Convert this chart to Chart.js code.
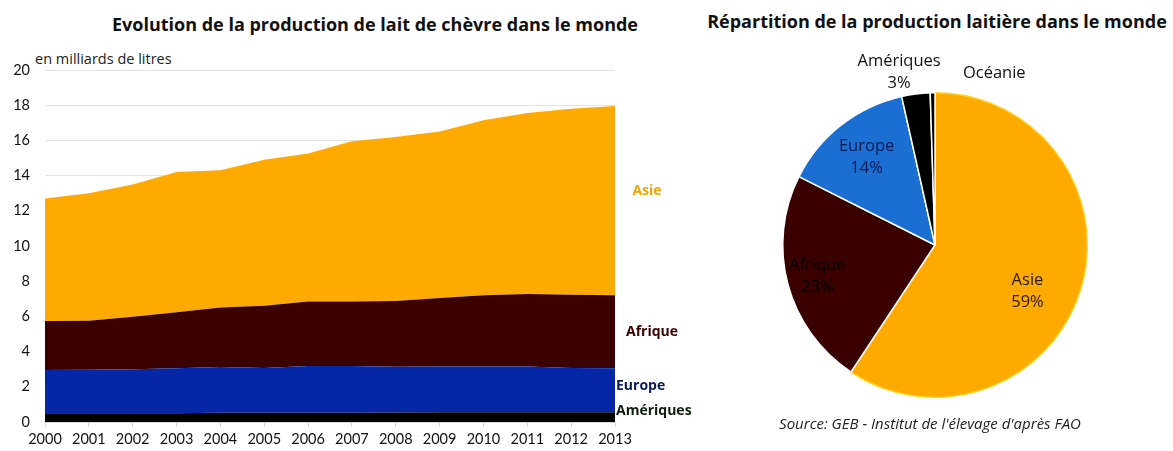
<!DOCTYPE html>
<html lang="fr">
<head>
<meta charset="utf-8">
<title>Lait de chèvre dans le monde</title>
<script src="https://cdn.jsdelivr.net/npm/chart.js@4.4.0/dist/chart.umd.min.js"></script>
<style>
  body { margin: 0; background: #fff; font-family: "Open Sans", Lato, sans-serif; }
  #wrap { position: relative; width: 1173px; height: 451px; overflow: hidden; }
  .box { position: absolute; }
  .title { position: absolute; font-weight: bold; font-size: 18px; color: #111; white-space: nowrap; }
  #unit { position: absolute; left: 35px; top: 49px; font-size: 14.5px; color: #222; }
  #source { position: absolute; left: 700px; width: 460px; top: 413px; text-align: center;
            font-style: italic; font-size: 15px; color: #222; }
</style>
</head>
<body>
<div id="wrap">
  <div class="title" style="left:0; width:750px; text-align:center; top:12px;">Evolution de la production de lait de chèvre dans le monde</div>
  <div class="title" style="left:700px; width:474px; text-align:center; top:9px;">Répartition de la production laitière dans le monde</div>
  <div id="unit">en milliards de litres</div>
  <div class="box" style="left:0; top:0;"><canvas id="areaChart" width="700" height="451"></canvas></div>
  <div class="box" style="left:700px; top:0;"><canvas id="pieChart" width="473" height="451"></canvas></div>
  <div id="source">Source: GEB - Institut de l'élevage d'après FAO</div>
</div>
<script>
  // years on the x axis
  var years = ['2000', '2001', '2002', '2003', '2004', '2005', '2006',
               '2007', '2008', '2009', '2010', '2011', '2012', '2013'];

  // production per region, billions of litres (stacked)
  var ameriques = [0.50, 0.50, 0.50, 0.50, 0.52, 0.52, 0.53, 0.53, 0.54, 0.55, 0.55, 0.55, 0.55, 0.55];
  var europe    = [2.45, 2.47, 2.50, 2.55, 2.60, 2.55, 2.65, 2.65, 2.60, 2.60, 2.60, 2.60, 2.52, 2.50];
  var afrique   = [2.79, 2.78, 2.98, 3.19, 3.38, 3.53, 3.66, 3.67, 3.73, 3.90, 4.05, 4.12, 4.16, 4.15];
  var asie      = [6.96, 7.25, 7.52, 7.96, 7.80, 8.30, 8.41, 9.10, 9.33, 9.45, 9.95, 10.28, 10.57, 10.75];

  // share of world production, percent
  var pieLabels = ['Asie', 'Afrique', 'Europe', 'Amériques', 'Océanie'];
  var pieValues = [59, 23, 14, 3, 0.5];

  var areaColors = { 'Amériques': '#000000', 'Europe': '#0626a8', 'Afrique': '#3b0000', 'Asie': '#ffaa00' };
  var endLabelColors = { 'Amériques': '#0d1f0d', 'Europe': '#0b1a5a', 'Afrique': '#3b0000', 'Asie': '#f5a300' };
  // label placement next to the last point: x anchor + align, vertical nudge
  var endLabelPos = {
    'Amériques': { x: 616, align: 'left', dy: -6 },
    'Europe':    { x: 616, align: 'left', dy: -4 },
    'Afrique':   { x: 652, align: 'center', dy: 0 },
    'Asie':      { x: 647, align: 'center', dy: -10 }
  };

  function band(label, values, fill) {
    return {
      label: label,
      data: values,
      backgroundColor: areaColors[label],
      borderWidth: 0,
      pointRadius: 0,
      fill: fill
    };
  }

  var endLabels = {
    id: 'endLabels',
    afterDatasetsDraw: function(chart) {
      var ctx = chart.ctx;
      var last = years.length - 1;
      var base = chart.scales.y.getPixelForValue(0);
      ctx.save();
      ctx.font = 'bold 14px "Open Sans", sans-serif';
      ctx.textBaseline = 'middle';
      chart.data.datasets.forEach(function(ds, i) {
        var top = chart.getDatasetMeta(i).data[last].y;
        var bottom = i === 0 ? base : chart.getDatasetMeta(i - 1).data[last].y;
        var pos = endLabelPos[ds.label];
        ctx.fillStyle = endLabelColors[ds.label];
        ctx.textAlign = pos.align;
        ctx.fillText(ds.label, pos.x, (top + bottom) / 2 + pos.dy);
      });
      ctx.restore();
    }
  };

  new Chart(document.getElementById('areaChart'), {
    type: 'line',
    data: {
      labels: years,
      datasets: [
        band('Amériques', ameriques, 'origin'),
        band('Europe', europe, '-1'),
        band('Afrique', afrique, '-1'),
        band('Asie', asie, '-1')
      ]
    },
    options: {
      responsive: false,
      animation: false,
      devicePixelRatio: 1,
      layout: { padding: { top: 70, right: 85, left: 0, bottom: 0 } },
      plugins: { legend: { display: false }, tooltip: { enabled: false } },
      scales: {
        x: {
          afterFit: function(s) { s.height = 29; },
          grid: { drawOnChartArea: false, drawTicks: true, tickLength: 5, color: '#d9d9d9' },
          border: { color: '#d9d9d9' },
          ticks: { padding: 4, color: '#111', font: { family: 'Lato', size: 14.5 }, maxRotation: 0, autoSkip: false }
        },
        y: {
          stacked: true,
          min: 0,
          max: 20,
          afterFit: function(s) { s.width = 45; },
          grid: { color: '#e3e3e3', drawTicks: false },
          border: { display: false },
          ticks: { stepSize: 2, padding: 15, color: '#111', font: { family: 'Lato', size: 14.5 } }
        }
      }
    },
    plugins: [endLabels]
  });

  // pie labels: radius factor of outer radius, angle shift in degrees, text colour
  var pieLabelStyle = [
    { r: 0.68, shift: 10,   color: '#2a1a00', pct: true },
    { r: 0.80, shift: 0,    color: '#000000', pct: true },
    { r: 0.73, shift: 0,    color: '#0b1a50', pct: true },
    { r: 1.16, shift: -4.5, color: '#111111', pct: true },
    { r: 1.19, shift: 20,   color: '#111111', pct: false }
  ];

  var pieText = {
    id: 'pieText',
    afterDatasetsDraw: function(chart) {
      var ctx = chart.ctx;
      var total = pieValues.reduce(function(a, b) { return a + b; }, 0);
      ctx.save();
      ctx.font = '16.5px "Open Sans", sans-serif';
      ctx.textAlign = 'center';
      ctx.textBaseline = 'middle';
      chart.getDatasetMeta(0).data.forEach(function(arc, i) {
        var st = pieLabelStyle[i];
        var a = (arc.startAngle + arc.endAngle) / 2 + st.shift * Math.PI / 180;
        var x = arc.x + Math.cos(a) * arc.outerRadius * st.r;
        var y = arc.y + Math.sin(a) * arc.outerRadius * st.r;
        ctx.fillStyle = st.color;
        if (st.pct) {
          ctx.fillText(pieLabels[i], x, y - 11);
          ctx.fillText(Math.round(pieValues[i] / total * 100) + '%', x, y + 11);
        } else {
          ctx.fillText(pieLabels[i], x, y);
        }
      });
      ctx.restore();
    }
  };

  new Chart(document.getElementById('pieChart'), {
    type: 'pie',
    data: {
      labels: pieLabels,
      datasets: [{
        data: pieValues,
        backgroundColor: ['#ffaa00', '#3a0000', '#1c6fd2', '#000000', '#000000'],
        borderColor: ['#ffd21a', '#ffffff', '#ffffff', '#ffffff', '#ffffff'],
        borderWidth: 1.5
      }]
    },
    options: {
      responsive: false,
      animation: false,
      devicePixelRatio: 1,
      layout: { padding: { top: 92, right: 85, left: 82, bottom: 53 } },
      plugins: { legend: { display: false }, tooltip: { enabled: false } }
    },
    plugins: [pieText]
  });
</script>
</body>
</html>
